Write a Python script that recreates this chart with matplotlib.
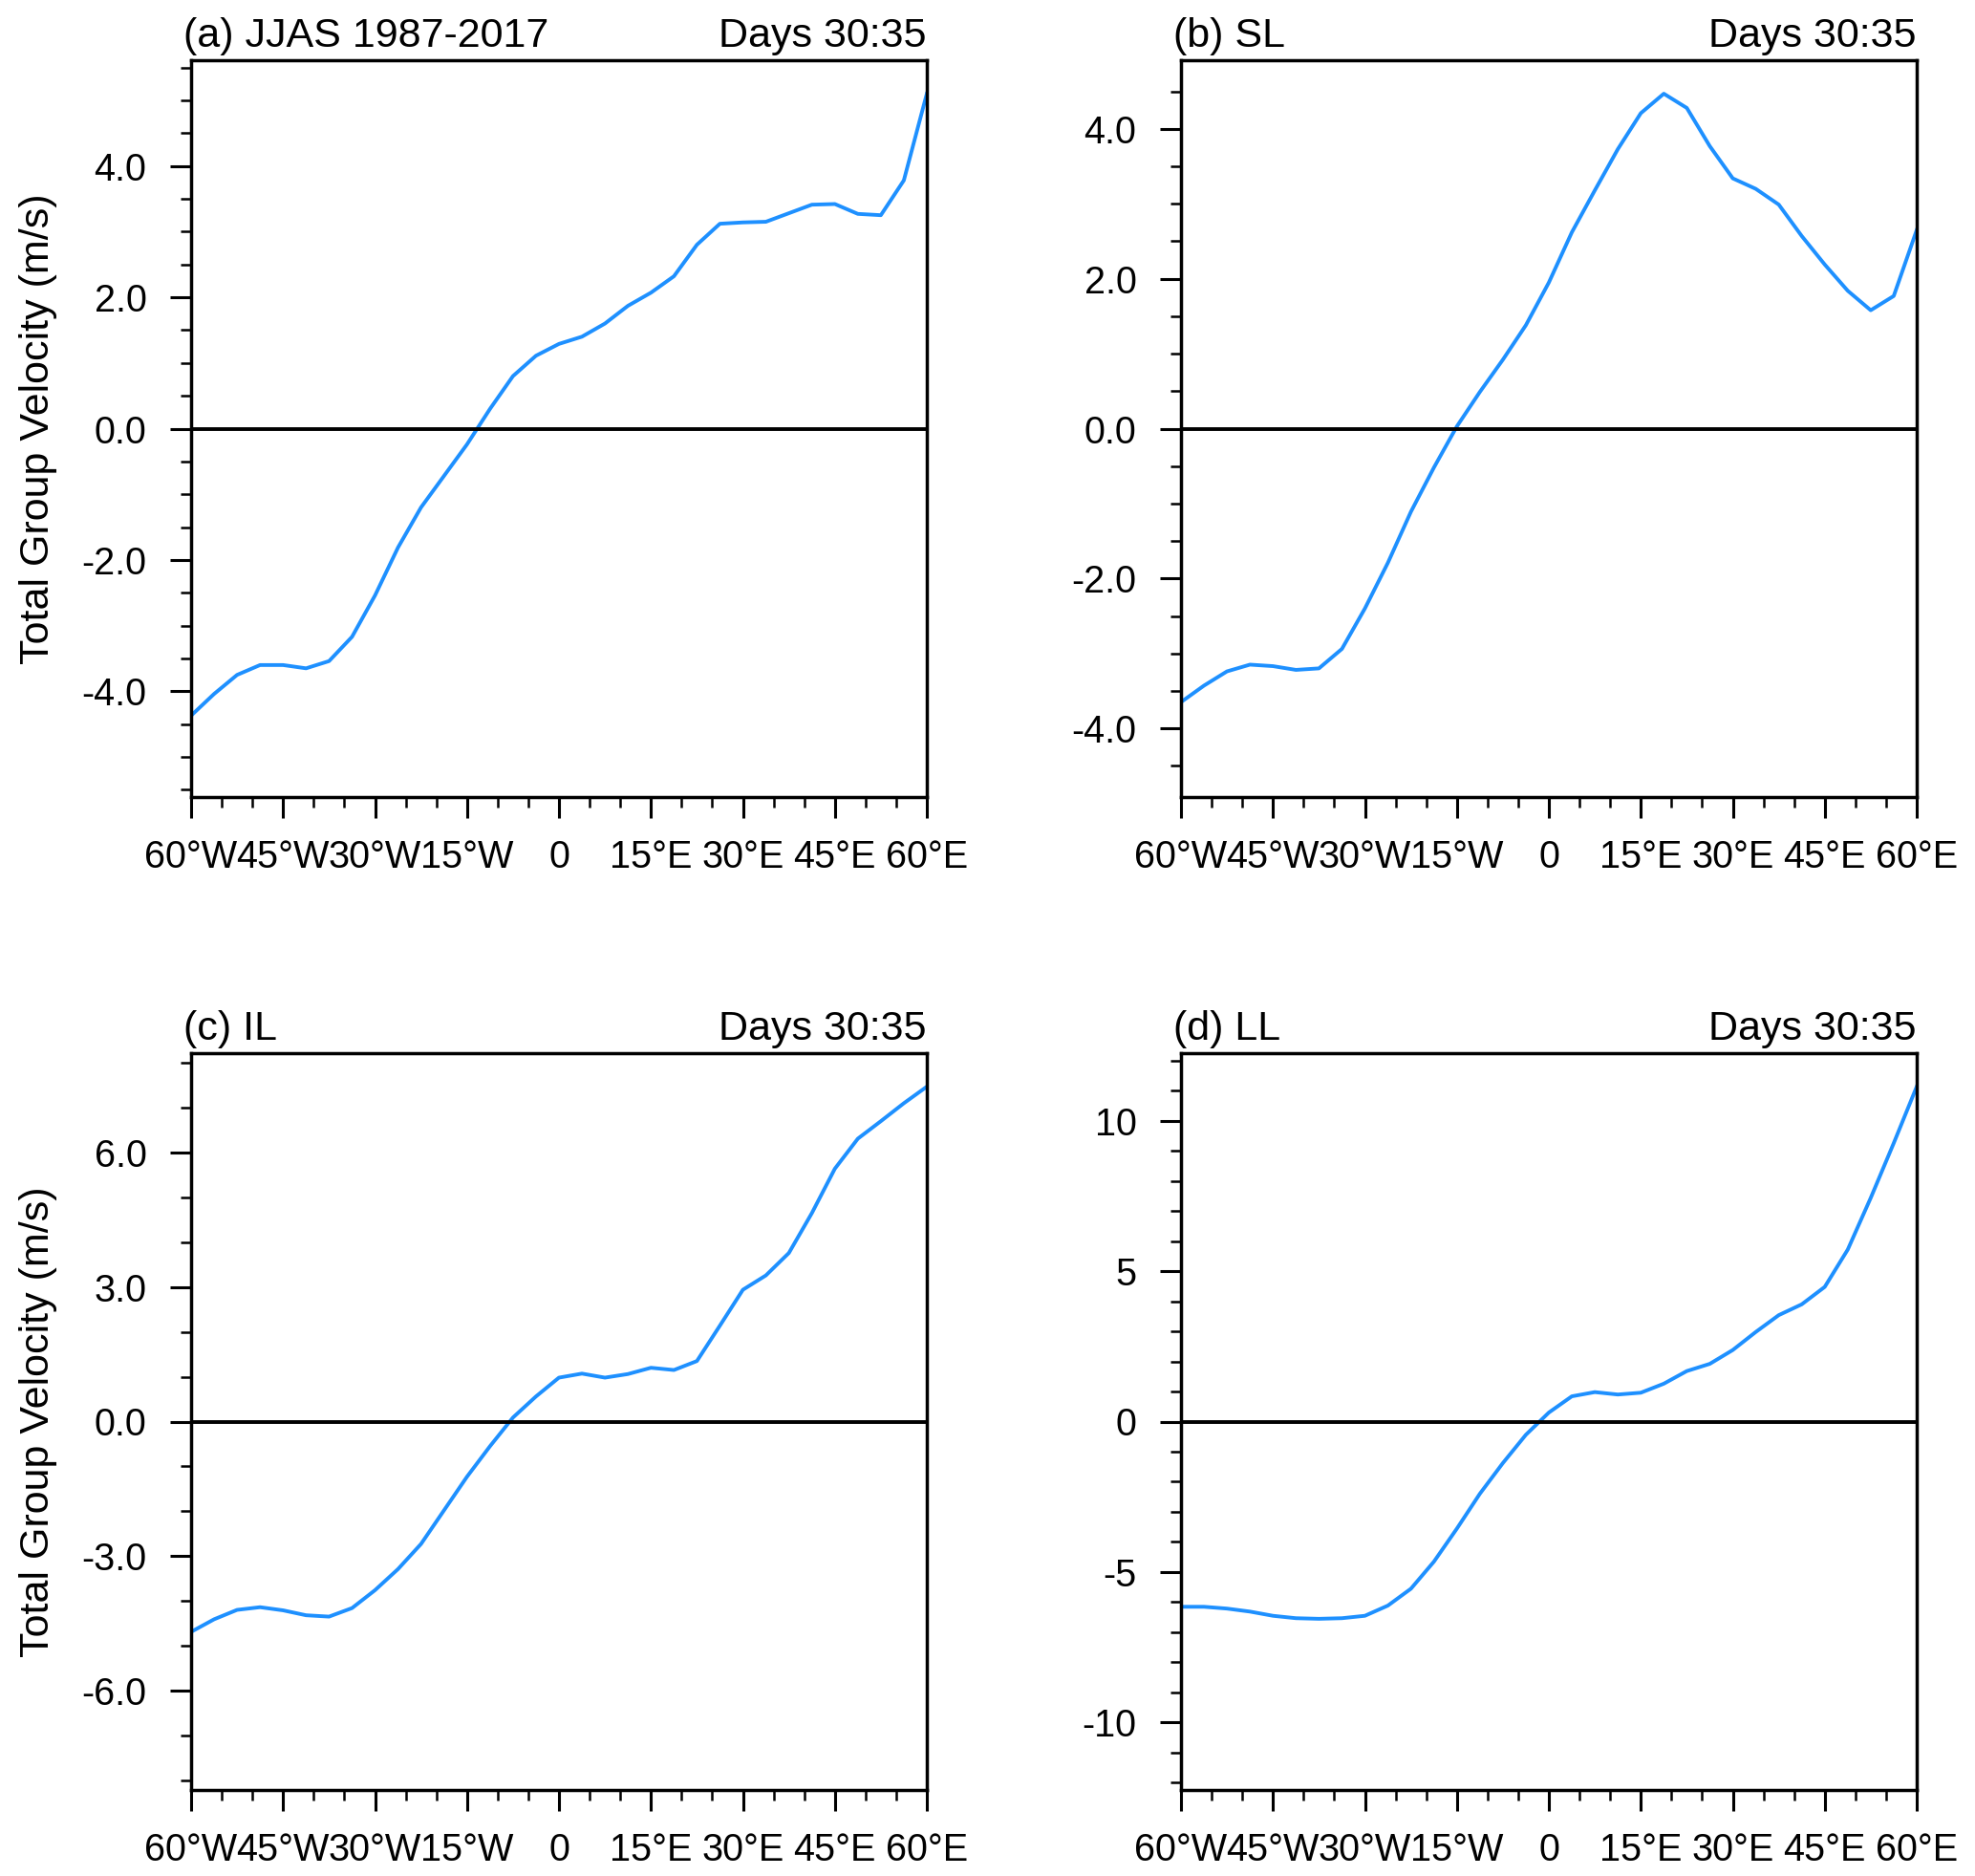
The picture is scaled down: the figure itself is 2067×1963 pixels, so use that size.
import numpy as np
import matplotlib
matplotlib.use('Agg')
import matplotlib.pyplot as plt
from matplotlib.ticker import MultipleLocator, FormatStrFormatter

plt.rcParams['font.family'] = ['Liberation Sans', 'DejaVu Sans']

# longitude grid, 3.75 deg spacing, 60W..60E
lon = np.linspace(-60, 60, 33)

# total group velocity (m/s), days 30:35
cg_jjas = [-4.37, -4.04, -3.75, -3.60, -3.60, -3.65, -3.54, -3.17, -2.54, -1.81,
           -1.20, -0.72, -0.24, 0.30, 0.80, 1.11, 1.29, 1.40, 1.60, 1.87,
           2.07, 2.32, 2.80, 3.12, 3.14, 3.15, 3.28, 3.41, 3.42, 3.27,
           3.25, 3.78, 5.10]
cg_sl = [-3.65, -3.43, -3.24, -3.15, -3.17, -3.22, -3.20, -2.94, -2.40, -1.79,
         -1.11, -0.52, 0.03, 0.49, 0.92, 1.38, 1.95, 2.62, 3.18, 3.73,
         4.21, 4.47, 4.28, 3.77, 3.34, 3.20, 2.99, 2.57, 2.19, 1.84,
         1.58, 1.77, 2.65]
cg_il = [-4.69, -4.41, -4.20, -4.14, -4.21, -4.32, -4.35, -4.16, -3.76, -3.29,
         -2.73, -1.98, -1.23, -0.55, 0.09, 0.56, 0.98, 1.07, 0.98, 1.06,
         1.20, 1.15, 1.35, 2.14, 2.94, 3.26, 3.76, 4.65, 5.64, 6.31,
         6.70, 7.10, 7.47]
cg_ll = [-6.16, -6.16, -6.22, -6.32, -6.46, -6.54, -6.56, -6.54, -6.46, -6.12,
         -5.56, -4.66, -3.56, -2.40, -1.38, -0.44, 0.30, 0.84, 0.98, 0.90,
         0.96, 1.26, 1.68, 1.92, 2.38, 2.98, 3.54, 3.90, 4.48, 5.72,
         7.44, 9.26, 11.14]

left_titles = ['(a) JJAS 1987-2017', '(b) SL', '(c) IL', '(d) LL']
right_title = 'Days 30:35'
ylabel = 'Total Group Velocity (m/s)'

xticks = [-60, -45, -30, -15, 0, 15, 30, 45, 60]
xticklabels = ['60°W', '45°W', '30°W', '15°W', '0', '15°E', '30°E', '45°E', '60°E']

series = [cg_jjas, cg_sl, cg_il, cg_ll]
ymajor = [2.0, 2.0, 3.0, 5.0]
yminor = [0.5, 0.5, 1.0, 1.0]
yfmt = ['%.1f', '%.1f', '%.1f', '%d']

W, H = 2067, 1963
fig = plt.figure(figsize=(W / 100, H / 100), dpi=100)

pos = [(200, 63), (1236, 63), (200, 1102), (1236, 1102)]
aw, ah = 770, 771
blue = '#1E90FF'

for i, y in enumerate(series):
    px, py = pos[i]
    ax = fig.add_axes([px / W, 1 - (py + ah) / H, aw / W, ah / H])
    ax.plot(lon, y, color=blue, lw=2.8, zorder=2)
    ax.axhline(0, color='black', lw=2.8, zorder=3)
    ymax = 1.1 * np.max(np.abs(y))
    ax.set_xlim(-60, 60)
    ax.set_ylim(-ymax, ymax)
    ax.set_xticks(xticks)
    ax.set_xticklabels(xticklabels)
    ax.xaxis.set_minor_locator(MultipleLocator(5))
    ax.yaxis.set_major_locator(MultipleLocator(ymajor[i]))
    ax.yaxis.set_minor_locator(MultipleLocator(yminor[i]))
    ax.yaxis.set_major_formatter(FormatStrFormatter(yfmt[i]))
    for s in ax.spines.values():
        s.set_linewidth(2.5)
    ax.tick_params(which='major', direction='out', length=15.5, width=2.2,
                   labelsize=28.5, top=False, right=False)
    ax.tick_params(which='minor', direction='out', length=7.8, width=1.8,
                   top=False, right=False)
    ax.tick_params(axis='x', which='major', pad=16)
    ax.tick_params(axis='y', which='major', pad=18)
    ax.text(-8 / aw, 1 + 14 / ah, left_titles[i], transform=ax.transAxes,
            ha='left', va='baseline', fontsize=31)
    ax.text(1.0, 1 + 14 / ah, right_title, transform=ax.transAxes,
            ha='right', va='baseline', fontsize=31)
    if i % 2 == 0:
        fig.text(40 / W, 1 - (py + ah / 2) / H, ylabel, rotation=90,
                 ha='center', va='center', fontsize=31)

fig.savefig('out.png', dpi=100)
plt.close()
